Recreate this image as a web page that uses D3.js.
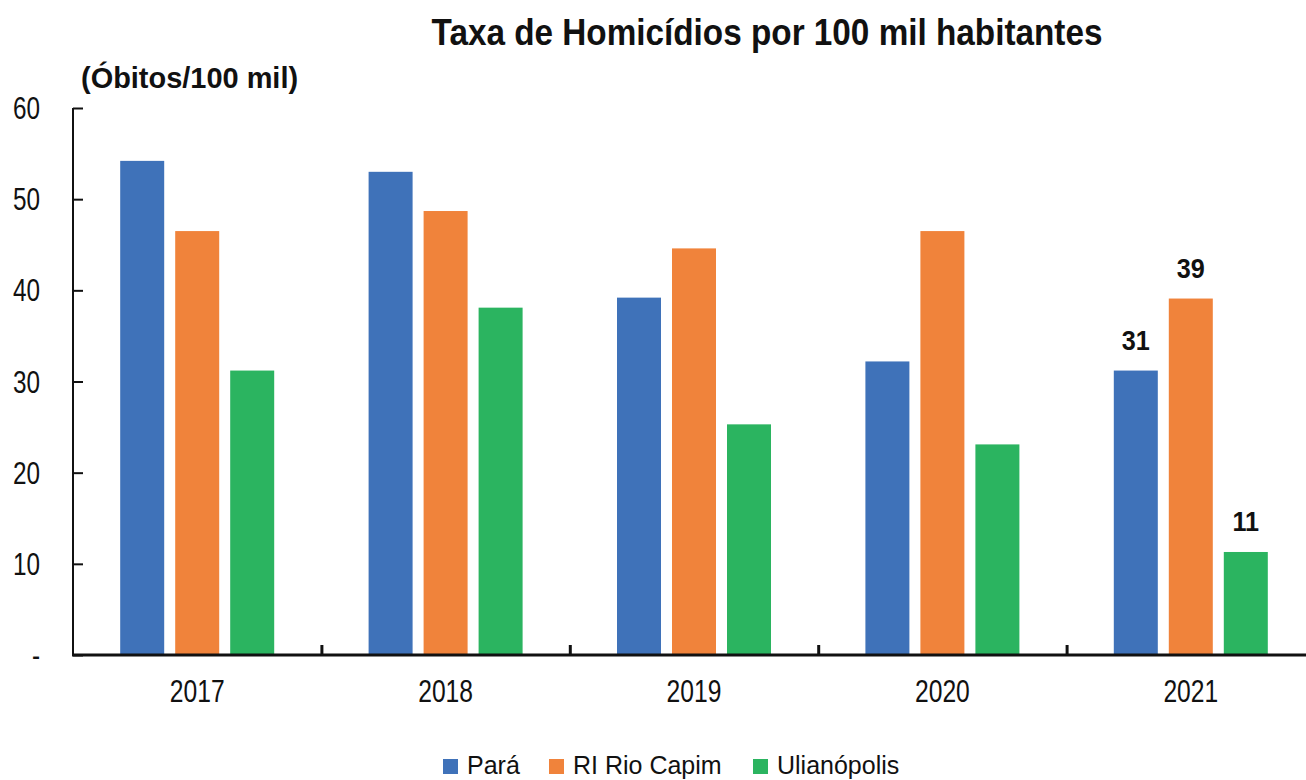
<!DOCTYPE html>
<html><head><meta charset="utf-8">
<script src="https://cdn.jsdelivr.net/npm/d3@7"></script>
<style>body{margin:0;background:#fff}</style>
</head><body>
<svg id="c" width="1306" height="780"></svg>
<script>
const years = ["2017","2018","2019","2020","2021"];
const seriesNames = ["Pará","RI Rio Capim","Ulianópolis"];
const para = [54.2, 53.0, 39.2, 32.2, 31.2];
const rioCapim = [46.5, 48.7, 44.6, 46.5, 39.1];
const ulianopolis = [31.2, 38.1, 25.3, 23.1, 11.3];
const yTicks = [0,10,20,30,40,50,60];
const yTickLabels = ["-","10","20","30","40","50","60"];
const labelled = {"2021": ["31","39","11"]};
const colors = ["#3f72b9","#f0833b","#2bb460"];

const font = "'Liberation Sans',Arial,sans-serif";
const svg = d3.select("#c");
const values = [para, rioCapim, ulianopolis];

// text helper with horizontal compression (narrow face emulation)
function txt(g, x, y, s, size, sx, anchor, bold){
  return g.append("text")
    .attr("transform", `translate(${x},${y}) scale(${sx},1)`)
    .attr("text-anchor", anchor)
    .attr("font-family", font).attr("font-size", size)
    .attr("font-weight", bold ? "bold" : "normal")
    .attr("fill", "#111").text(s);
}

const x = d3.scaleBand().domain(years).range([73, 1315]);
const x1 = d3.scaleBand().domain(seriesNames).range([0, 154]).paddingInner(0.2);
const y = d3.scaleLinear().domain([0,60]).range([655,108]);

// title
txt(svg, 767, 45, "Taxa de Homicídios por 100 mil habitantes", 37, 0.9, "middle", true);
txt(svg, 81, 88, "(Óbitos/100 mil)", 30, 0.965, "start", true);

// bars
const groupOffset = (x.bandwidth()-154)/2;
seriesNames.forEach((s,si)=>{
  svg.append("g").selectAll("rect").data(years).join("rect")
    .attr("x", d=>x(d)+groupOffset+x1(s))
    .attr("y", (d,i)=>y(values[si][i]))
    .attr("width", x1.bandwidth())
    .attr("height", (d,i)=>y(0)-y(values[si][i]))
    .attr("fill", colors[si]);
});

// data labels
Object.keys(labelled).forEach(yr=>{
  const i = years.indexOf(yr);
  seriesNames.forEach((s,si)=>{
    txt(svg, x(yr)+groupOffset+x1(s)+x1.bandwidth()/2, y(values[si][i])-21,
        labelled[yr][si], 28, 0.9, "middle", true);
  });
});

// y axis
const yAxis = d3.axisRight(y).tickValues(yTicks).tickSize(10).tickFormat("");
const gy = svg.append("g").attr("transform","translate(73,0)").call(yAxis);
gy.select(".domain").attr("stroke","#111").attr("stroke-width",2).attr("d","M0,655V108");
gy.selectAll(".tick line").attr("stroke","#111").attr("stroke-width",2);
const gyl = svg.append("g");
yTicks.forEach((t,i)=>{
  txt(gyl, 40, y(t)+11, yTickLabels[i], 32, 0.76, "end", false);
});

// x axis
const bounds = years.slice(1).map(d=>x(d));
const xAxis = d3.axisTop(d3.scaleLinear().domain([0,1306]).range([0,1306]))
  .tickValues(bounds).tickSize(10).tickFormat("");
const gx = svg.append("g").attr("transform","translate(0,655)").call(xAxis);
gx.select(".domain").attr("stroke","#111").attr("stroke-width",3).attr("d","M72,0H1306");
gx.selectAll(".tick line").attr("stroke","#111").attr("stroke-width",3);
const gxl = svg.append("g");
years.forEach(d=>{
  txt(gxl, x(d)+x.bandwidth()/2, 702, d, 32, 0.77, "middle", false);
});

// legend
const legX = [443, 549, 753];
seriesNames.forEach((s,i)=>{
  svg.append("rect").attr("x",legX[i]).attr("y",759).attr("width",15).attr("height",15).attr("fill",colors[i]);
  txt(svg, legX[i]+24, 774, s, 25, 1, "start", false);
});
</script>
</body></html>
